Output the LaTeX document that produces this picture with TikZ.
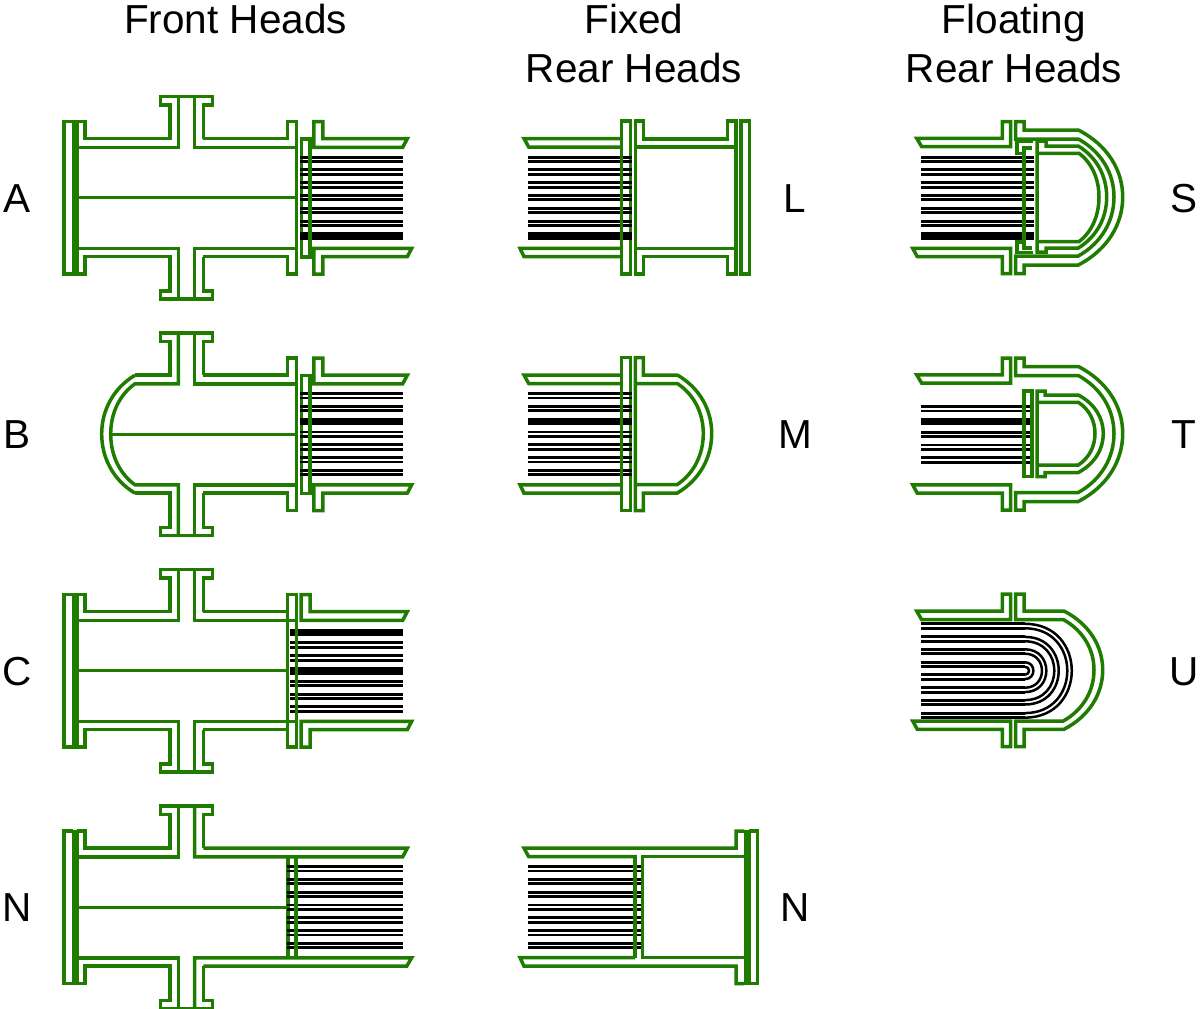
\documentclass[tikz,border=0pt]{standalone}
\usepackage{fontspec}
\setmainfont{Liberation Sans}
\definecolor{shellgreen}{HTML}{1F7C00}
\tikzset{
  sh/.style={draw=shellgreen,line width=3.5pt,line join=miter,fill=none},
  cline/.style={draw=shellgreen,line width=3pt},
  wall/.style={draw=shellgreen,line width=3.5pt},
  barfill/.style={fill=shellgreen,draw=none},
  tube/.style={draw=black,line width=2.9pt},
  fattube/.style={draw=black,line width=7.6pt},
  ubend/.style={draw=black,line width=2.5pt},
  headtitle/.style={font=\fontsize{40.5}{49.5}\selectfont,align=center,anchor=base,inner sep=0pt},
  letter/.style={font=\fontsize{40.5}{50}\selectfont,anchor=base,inner sep=0pt},
}
% x0,x1,first centre y,last index
\newcommand{\tubes}[4]{\foreach \i in {0,...,#4}{
  \draw[tube] (#1,{#3+12.8*\i-2.2}) -- (#2,{#3+12.8*\i-2.2});
  \draw[tube] (#1,{#3+12.8*\i+2.2}) -- (#2,{#3+12.8*\i+2.2});}}
\newcommand{\fat}[4]{\draw[fattube] (#1,{#3+12.8*#4}) -- (#2,{#3+12.8*#4});}
% x0,ytop,x1,ymid,ybot
\newcommand{\headcurve}[5]{.. controls ({#1+.66*(#3-#1)},{#2+.225*(#4-#2)}) and (#3,{#4-.4*(#4-#2)}) .. (#3,#4) .. controls (#3,{#4+.4*(#5-#4)}) and ({#1+.66*(#3-#1)},{#5-.225*(#5-#4)}) .. (#1,#5)}
\newcommand{\topnoz}{-- (170,138.7) -- (170,105) -- (160.7,105) -- (160.7,96.7) -- (212.7,96.7) -- (212.7,105) -- (203.3,105) -- (203.3,138.7)}
\newcommand{\botnoz}{-- (170,256.7) -- (170,291) -- (160.7,291) -- (160.7,299) -- (212.7,299) -- (212.7,291) -- (203.3,291) -- (203.3,256.7)}
\newcommand{\leftcover}{
  \fill[barfill] (72,120) rectangle (78.5,275.5);
  \draw[sh] (72.5,121.5) -- (64,121.5) -- (64,274) -- (72.5,274);
  \draw[sh] (77,121.5) -- (85,121.5) -- (85,138.7) \topnoz;
  \draw[sh] (77,274) -- (85,274) -- (85,256.7) \botnoz;
  \draw[sh] (77,147.3) -- (178.3,147.3) -- (178.3,96.7);
  \draw[sh] (77,248.3) -- (178.3,248.3) -- (178.3,299);
}
\newcommand{\midright}[1]{
  \draw[sh] (203.3,138.7) -- (287.7,138.7) -- (287.7,121.5) -- (296.4,121.5) -- (296.4,274) -- (287.7,274) -- (287.7,256.7) -- (203.3,256.7);
  \draw[sh] (194.7,96.7) -- (194.7,147.3) -- (296.4,147.3);
  \draw[sh] (194.7,299) -- (194.7,248.3) -- (296.4,248.3);
  \draw[sh] (#1,121.5) -- ({#1+9},121.5) -- ({#1+9},138.7) -- (407.3,138.7) -- (402.7,147.3) -- (#1,147.3) -- cycle;
  \draw[sh] (#1,274) -- ({#1+9},274) -- ({#1+9},256.7) -- (407.3,256.7) -- (411.7,248.3) -- (#1,248.3) -- cycle;
}
\newcommand{\tsheet}{
  \draw[sh] (309.8,139) -- (301.4,139) -- (301.4,257) -- (309.8,257);
  \draw[wall] (309.8,137.2) -- (309.8,258.8);
}
\newcommand{\rearshell}{
  \draw[sh] (621.7,138.5) -- (524,138.5) -- (528.7,147) -- (621.7,147);
  \draw[sh] (621.7,248.3) -- (520,248.3) -- (524,256.7) -- (621.7,256.7);
  \draw[sh] (630.3,121) -- (621.7,121) -- (621.7,274) -- (630.3,274);
  \draw[wall] (630.3,119.2) -- (630.3,275.8);
}
\newcommand{\wallL}{\draw[wall] (621.7,121) -- (621.7,274);}
\newcommand{\floatshell}{
  \draw[sh] (916.7,138.3) -- (1002.3,138.3) -- (1002.3,121.7) -- (1010.5,121.7) -- (1010.5,146.7) -- (921.7,146.7) -- cycle;
  \draw[sh] (912.7,248.3) -- (1010.5,248.3) -- (1010.5,273.5) -- (1002.3,273.5) -- (1002.3,256.7) -- (917.3,256.7) -- cycle;
}
\newcommand{\floatouter}{
  \draw[sh] (1015.7,139) -- (1015.7,121.7) -- (1024,121.7) -- (1024,130) -- (1078.3,130) \headcurve{1078.3}{130}{1122.7}{197}{265} -- (1024,265) -- (1024,273.5) -- (1015.7,273.5) -- (1015.7,256) -- (1078.3,256) \headcurve{1078.3}{256}{1114}{197}{139} -- cycle;
}
\begin{document}
\begin{tikzpicture}[x=1pt,y=-1pt]
\useasboundingbox (0,0) rectangle (1200,1009);
% titles
\node[headtitle] (t1) at (235.5,33) {Front Heads};
\node[headtitle] (t2) at (634,82.5) {Fixed\\Rear Heads};
\node[headtitle] (t3) at (1014,82.5) {Floating\\Rear Heads};
% row letters
\node[letter] (la) at (17.5,212) {A};
\node[letter] (lb) at (17.5,448) {B};
\node[letter] (lc) at (17.5,685) {C};
\node[letter] (ln) at (17.5,921) {N};
\node[letter] (ll) at (795,212) {L};
\node[letter] (lm) at (795,448) {M};
\node[letter] (ln2) at (795,921) {N};
\node[letter] (ls) at (1184,212) {S};
\node[letter] (lt) at (1184,448) {T};
\node[letter] (lu) at (1184,685) {U};
% Front head A
\leftcover
\midright{313.8}
\draw[cline] (77,197.5) -- (296.4,197.5);
\tsheet
\tubes{300}{403.3}{159.3}{6}
\fat{300}{403.3}{159.3}{6}
\draw[wall] (309.8,137.2) -- (309.8,258.8);
% Front head B
\begin{scope}[shift={(0,236.5)}]
  \draw[sh] (178.3,96.7) -- (178.3,147.3) -- (135,147.3) \headcurve{135}{147.3}{110.7}{197.5}{248.3} -- (178.3,248.3) -- (178.3,299);
  \draw[sh] (135,138.7) \topnoz;
  \draw[sh] (135,256.7) \botnoz;
  \draw[sh] (135,138.7) \headcurve{135}{138.7}{101.7}{197.5}{256.7};
  \midright{313.8}
  \draw[cline] (110.7,197.5) -- (296.4,197.5);
  \tsheet
  \tubes{300}{403.3}{159.3}{6}
  \fat{300}{403.3}{159.3}{2}
  \draw[wall] (309.8,137.2) -- (309.8,258.8);
\end{scope}
% Front head C
\begin{scope}[shift={(0,473)}]
  \leftcover
  \midright{301}
  \draw[sh] (287.7,121.5) -- (287.7,274);
  \draw[cline] (77,197.5) -- (287.7,197.5);
  \tubes{290}{403.3}{159.3}{6}
  \fat{290}{403.3}{159.3}{0}
  \fat{290}{403.3}{159.3}{3}
  \draw[wall] (296.4,147.3) -- (296.4,248.3);
\end{scope}
% Front head N
\begin{scope}[shift={(0,709.5)}]
  \leftcover
  \draw[sh] (203.3,138.7) -- (407.3,138.7) -- (402.7,147.3) -- (194.7,147.3) -- (194.7,96.7);
  \draw[sh] (194.7,299) -- (194.7,248.3) -- (411.7,248.3) -- (406.7,256.7) -- (203.3,256.7);
  \draw[cline] (77,197.5) -- (288,197.5);
  \draw[sh] (288,147.3) -- (288,248.3);
  \tubes{286.7}{403.3}{159.3}{6}
  \draw[wall] (296,147.3) -- (296,248.3);
\end{scope}
% Rear head L
\rearshell
\draw[sh] (635.3,147) -- (736,147);
\draw[sh] (635.3,248.3) -- (736,248.3);
\draw[sh] (635.3,121) -- (643.3,121) -- (643.3,139) -- (727.7,139) -- (727.7,121) -- (736,121) -- (736,274) -- (727.7,274) -- (727.7,256.7) -- (643.3,256.7) -- (643.3,274) -- (635.3,274) -- cycle;
\draw[sh] (741,121) rectangle (749.3,274);
\tubes{528}{632}{159.3}{6}
\fat{528}{632}{159.3}{6}
\wallL
% Rear head M
\begin{scope}[shift={(0,236.5)}]
  \rearshell
  \draw[sh] (635.3,121) -- (643.3,121) -- (643.3,138.5) -- (677.3,138.5) \headcurve{677.3}{138.5}{711.7}{197}{256.5} -- (643.3,256.5) -- (643.3,274) -- (635.3,274) -- cycle;
  \draw[sh] (635.3,147) -- (677.3,147) \headcurve{677.3}{147}{703.3}{197}{248} -- (635.3,248);
  \tubes{528}{632}{159.3}{6}
  \fat{528}{632}{159.3}{2}
  \wallL
\end{scope}
% Rear head N
\begin{scope}[shift={(0,709.5)}]
  \fill[barfill] (744,120) rectangle (750.5,275);
  \draw[sh] (749,121.5) -- (757.3,121.5) -- (757.3,274.2) -- (749,274.2);
  \draw[sh] (744.3,121.5) -- (736,121.5) -- (736,138.5) -- (524,138.5) -- (528.7,147.2) -- (635,147.2) -- (635,248);
  \draw[sh] (635,248) -- (520,248) -- (524,256.7) -- (736,256.7) -- (736,274.2) -- (744.3,274.2);
  \draw[sh] (744,147.2) -- (642.7,147.2) -- (642.7,248) -- (744,248);
  \tubes{528}{640.7}{159.3}{6}
  \draw[wall] (635,147.2) -- (635,248);
\end{scope}
% Floating head S
\floatshell
\floatouter
\draw[sh] (1033,141) -- (1017,141) -- (1017,153.3) -- (1023.5,153.3);
\draw[sh] (1023.5,242) -- (1017,242) -- (1017,252.5) -- (1033,252.5);
\draw[sh] (1037,141) -- (1046,141) -- (1046,146) -- (1078.3,146) \headcurve{1078.3}{146}{1106.7}{197}{248} -- (1046,248) -- (1046,252) -- (1037,252) -- cycle;
\draw[sh] (1037,153.3) -- (1079,153.3) \headcurve{1079}{153.3}{1099}{197}{241.7} -- (1037,241.7);
\draw[sh] (1032,148) -- (1024,148) -- (1024,248) -- (1032,248);
\tubes{921}{1034}{159.3}{6}
\fat{921}{1034}{159.3}{6}
\draw[wall] (1024,148) -- (1024,248);
% Floating head T
\begin{scope}[shift={(0,236.5)}]
  \floatshell
  \floatouter
  \draw[sh] (1032,154.5) -- (1024,154.5) -- (1024,240) -- (1032,240) -- cycle;
  \draw[sh] (1037,154.5) -- (1045,154.5) -- (1045,158.5) -- (1078.3,158.5) \headcurve{1078.3}{158.5}{1103.3}{197}{236} -- (1045,236) -- (1045,240) -- (1037,240) -- cycle;
  \draw[sh] (1037,165.8) -- (1078.3,165.8) \headcurve{1078.3}{165.8}{1095}{197}{228.5} -- (1037,228.5);
  \tubes{921}{1030}{172.3}{4}
  \fat{921}{1030}{172.3}{1}
  \draw[wall] (1024,154.5) -- (1024,240);
\end{scope}
% Floating head U
\draw[sh] (916.7,611) -- (1002.3,611) -- (1002.3,594) -- (1010.5,594) -- (1010.5,619.7) -- (921.7,619.7) -- cycle;
\draw[sh] (912.7,721) -- (1010.5,721) -- (1010.5,746.7) -- (1002.3,746.7) -- (1002.3,729.3) -- (917.3,729.3) -- cycle;
\draw[sh] (1015.7,619.5) -- (1015.7,594) -- (1024,594) -- (1024,611) -- (1064,611) \headcurve{1064}{611}{1102.7}{670}{729.3} -- (1024,729.3) -- (1024,746.7) -- (1015.7,746.7) -- (1015.7,721) -- (1063.3,721) \headcurve{1063.3}{721}{1094}{670}{619.5} -- cycle;
\foreach \r in {4,8.4,17,21.4,29.4,33.8,42.4,46.9}{
  \draw[tube] (921,670.7-\r) -- (1025,670.7-\r);
  \draw[tube] (921,670.7+\r) -- (1025,670.7+\r);
  \draw[ubend] (1025,670.7-\r) .. controls ({1025+1.33*\r},670.7-\r) and ({1025+1.33*\r},670.7+\r) .. (1025,670.7+\r);
}
\end{tikzpicture}
\end{document}
